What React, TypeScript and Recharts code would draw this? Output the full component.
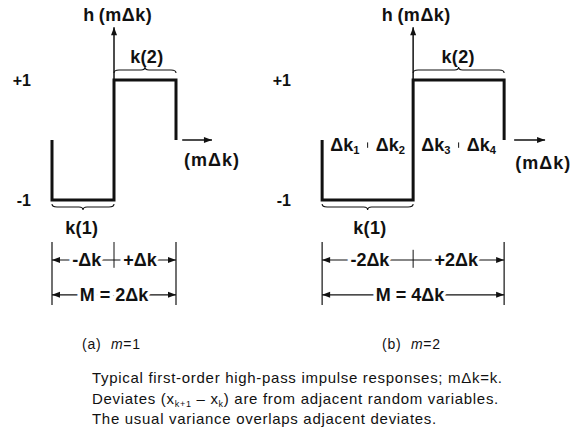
import { LineChart, Line, XAxis, YAxis, ReferenceLine, ReferenceDot } from 'recharts';

// First-order high-pass impulse response h(mΔk); x is in units of Δk
const xA = [-1, -1, 0, 0, 1, 1];
const hA = [0, -1, -1, 1, 1, 0];
const xB = [-2, -2, 0, 0, 2, 2];
const hB = [0, -1, -1, 1, 1, 0];

const levelTicks = [1, -1];
const levelNames = ['+1', '-1'];

// sub-interval labels for m = 2
const subCentersB = [-1.5, -0.5, 0.5, 1.5];
const subIndexB = ['1', '2', '3', '4'];
const subDividersB = [-1, 1];

const FONT = '"Liberation Sans", Arial, Helvetica, sans-serif';
const INK = '#111';

// shared heights (in units of h)
const Y = {
  axisTop: 1.88,
  hLabel: 2.08,
  k2Label: 1.38,
  k2Brace: 1.167,
  k1Brace: -1.117,
  k1Label: -1.47,
  dimTop: -1.7,
  dimBottom: -2.75,
  row1: -2.0,
  row2: -2.58,
  crossBottom: -2.13,
};

type Pt = { x1: number; y1: number; x2: number; y2: number };

function arrowHead(tx: number, ty: number, fx: number, fy: number, key: string) {
  const a = Math.atan2(ty - fy, tx - fx);
  const L = 8;
  const W = 3;
  const bx = tx - L * Math.cos(a);
  const by = ty - L * Math.sin(a);
  const px = -Math.sin(a) * W;
  const py = Math.cos(a) * W;
  return <polygon key={key} points={`${tx},${ty} ${bx + px},${by + py} ${bx - px},${by - py}`} fill={INK} />;
}

function arrowShape(both: boolean, width = 1.4) {
  return (p: Pt) => (
    <g>
      <line x1={p.x1} y1={p.y1} x2={p.x2} y2={p.y2} stroke={INK} strokeWidth={width} />
      {arrowHead(p.x2, p.y2, p.x1, p.y1, 'e')}
      {both && arrowHead(p.x1, p.y1, p.x2, p.y2, 's')}
    </g>
  );
}

function plainShape(width: number) {
  return (p: Pt) => <line x1={p.x1} y1={p.y1} x2={p.x2} y2={p.y2} stroke={INK} strokeWidth={width} />;
}

// curly brace along a horizontal segment; dir = -1 puts the tip upward
function braceShape(dir: number) {
  return (p: Pt) => {
    const { x1, x2, y1: y } = p;
    const xm = (x1 + x2) / 2;
    const e = 3 * -dir;
    const t = 3 * dir;
    const d = `M${x1},${y + e} Q${x1},${y} ${x1 + 5},${y} L${xm - 4},${y} Q${xm},${y} ${xm},${y + t} Q${xm},${y} ${xm + 4},${y} L${x2 - 5},${y} Q${x2},${y} ${x2},${y + e}`;
    return <path d={d} fill="none" stroke={INK} strokeWidth={1.1} />;
  };
}

function textShape(text: string, opts: { size?: number; sub?: string; halo?: boolean; spacing?: number } = {}) {
  const { size = 18, sub, halo = false, spacing = 0 } = opts;
  return (p: { cx: number; cy: number }) => (
    <text
      x={p.cx}
      y={p.cy}
      textAnchor="middle"
      dominantBaseline="central"
      fontFamily={FONT}
      fontWeight="bold"
      fontSize={size}
      letterSpacing={spacing}
      fill={INK}
      stroke={halo ? '#fff' : 'none'}
      strokeWidth={halo ? 7 : 0}
      paintOrder="stroke"
    >
      {text}
      {sub && (
        <tspan fontSize={size * 0.62} dy={5}>
          {sub}
        </tspan>
      )}
    </text>
  );
}

interface Layout {
  left: number;
  width: number;
  right: number;
  yWidth: number;
  tickShift: number;
  xDomain: [number, number];
  span: number;
  hLabelX: number;
  k2X: number;
  k1X: number;
  arrow: [number, number];
  argX: number;
  argY: number;
  rowText: [string, string];
  rowX: [number, number];
  totalText: string;
  totalX: number;
  crossTop: number;
}

function Panel({ layout, xs, hs, children }: { layout: Layout; xs: number[]; hs: number[]; children?: any }) {
  const L = layout;
  const data = xs.map((x, i) => ({ x, h: hs[i] }));
  const s = L.span;
  return (
    <div style={{ position: 'absolute', left: L.left, top: 0 }}>
      <LineChart width={L.width} height={320} data={data} margin={{ top: 5, right: L.right, bottom: 0, left: 0 }}>
        <XAxis type="number" dataKey="x" domain={L.xDomain} allowDataOverflow hide />
        <YAxis
          type="number"
          domain={[-3, 2.25]}
          allowDataOverflow
          width={L.yWidth}
          ticks={levelTicks}
          tickFormatter={(v: number) => levelNames[levelTicks.indexOf(v)]}
          axisLine={false}
          tickLine={false}
          tickSize={0}
          tickMargin={-L.tickShift}
          tick={{ fill: INK, fontSize: 16, fontWeight: 'bold', fontFamily: FONT }}
        />

        {/* axes arrows */}
        <ReferenceLine segment={[{ x: 0, y: 1 }, { x: 0, y: Y.axisTop }]} shape={arrowShape(false, 1.5)} />
        <ReferenceLine segment={[{ x: L.arrow[0], y: 0 }, { x: L.arrow[1], y: 0 }]} shape={arrowShape(false, 1.5)} />

        {/* braces */}
        <ReferenceLine segment={[{ x: 0, y: Y.k2Brace }, { x: s, y: Y.k2Brace }]} shape={braceShape(-1)} />
        <ReferenceLine segment={[{ x: -s, y: Y.k1Brace }, { x: 0, y: Y.k1Brace }]} shape={braceShape(1)} />

        {/* dimension lines */}
        <ReferenceLine segment={[{ x: -s, y: Y.dimTop }, { x: -s, y: Y.dimBottom }]} shape={plainShape(1.2)} />
        <ReferenceLine segment={[{ x: s, y: Y.dimTop }, { x: s, y: Y.dimBottom }]} shape={plainShape(1.2)} />
        <ReferenceLine segment={[{ x: 0, y: L.crossTop }, { x: 0, y: Y.crossBottom }]} shape={plainShape(1)} />
        <ReferenceLine segment={[{ x: -s, y: Y.row1 }, { x: s, y: Y.row1 }]} shape={arrowShape(true, 1.2)} />
        <ReferenceLine segment={[{ x: -s, y: Y.row2 }, { x: s, y: Y.row2 }]} shape={arrowShape(true, 1.2)} />

        <Line
          type="linear"
          dataKey="h"
          stroke={INK}
          strokeWidth={3}
          strokeLinejoin="miter"
          dot={false}
          isAnimationActive={false}
        />

        {children}

        <ReferenceDot x={L.hLabelX} y={Y.hLabel} r={0} shape={textShape('h\u2009(mΔk)', { spacing: 0.5 })} />
        <ReferenceDot x={L.k2X} y={Y.k2Label} r={0} shape={textShape('k(2)', { spacing: 0.3 })} />
        <ReferenceDot x={L.k1X} y={Y.k1Label} r={0} shape={textShape('k(1)', { spacing: 0.3 })} />
        <ReferenceDot x={L.argX} y={L.argY} r={0} shape={textShape('(mΔk)', { spacing: 1 })} />
        <ReferenceDot x={L.rowX[0]} y={Y.row1} r={0} shape={textShape(L.rowText[0], { halo: true })} />
        <ReferenceDot x={L.rowX[1]} y={Y.row1} r={0} shape={textShape(L.rowText[1], { halo: true })} />
        <ReferenceDot x={L.totalX} y={Y.row2} r={0} shape={textShape(L.totalText, { halo: true })} />
      </LineChart>
    </div>
  );
}

const layoutA: Layout = {
  left: 0,
  width: 290,
  right: 5.5,
  yWidth: 21,
  tickShift: 10,
  xDomain: [-1.5, 2.75],
  span: 1,
  hLabelX: 0.06,
  k2X: 0.53,
  k1X: -0.52,
  arrow: [1.1, 1.58],
  argX: 1.58,
  argY: -0.33,
  rowText: ['-Δk', '+Δk'],
  rowX: [-0.44, 0.42],
  totalText: 'M = 2Δk',
  totalX: 0,
  crossTop: -1.7,
};

const layoutB: Layout = {
  left: 267.875,
  width: 311,
  right: 18,
  yWidth: 20,
  tickShift: 3,
  xDomain: [-2.75, 3.25],
  span: 2,
  hLabelX: 0.07,
  k2X: 0.99,
  k1X: -0.95,
  arrow: [2.22, 2.9],
  argX: 2.86,
  argY: -0.38,
  rowText: ['-2Δk', '+2Δk'],
  rowX: [-0.95, 0.95],
  totalText: 'M = 4Δk',
  totalX: -0.07,
  crossTop: -1.83,
};

const captionStyle = {
  position: 'absolute' as const,
  fontFamily: FONT,
  color: INK,
  whiteSpace: 'nowrap' as const,
};

const noteStyle = { ...captionStyle, left: 92, fontSize: 15, lineHeight: '20px', letterSpacing: 0.7 };
const subStyle = { fontSize: 9, verticalAlign: -3, lineHeight: 0 };

export default function App() {
  return (
    <div style={{ position: 'absolute', left: 0, top: 0, width: 579, height: 439, background: '#fff', overflow: 'hidden' }}>
      <Panel layout={layoutA} xs={xA} hs={hA} />
      <Panel layout={layoutB} xs={xB} hs={hB}>
        {subCentersB.map((c, i) => (
          <ReferenceDot key={`s${i}`} x={c} y={-0.08} r={0} shape={textShape('Δk', { sub: subIndexB[i] })} />
        ))}
        {subDividersB.map((d) => (
          <ReferenceLine key={`d${d}`} segment={[{ x: d, y: -0.04 }, { x: d, y: -0.13 }]} shape={plainShape(1)} />
        ))}
      </Panel>

      <div style={{ ...captionStyle, left: 82, top: 335, fontSize: 14, lineHeight: '18px', letterSpacing: 0.8 }}>
        (a)&nbsp;&nbsp;<i>m</i>=1
      </div>
      <div style={{ ...captionStyle, left: 382, top: 335, fontSize: 14, lineHeight: '18px', letterSpacing: 0.8 }}>
        (b)&nbsp;&nbsp;<i>m</i>=2
      </div>

      <div style={{ ...noteStyle, top: 368 }}>Typical first-order high-pass impulse responses; mΔk=k.</div>
      <div style={{ ...noteStyle, top: 388.5 }}>
        Deviates (x<sub style={subStyle}>k+1</sub> – x<sub style={subStyle}>k</sub>) are from adjacent random variables.
      </div>
      <div style={{ ...noteStyle, top: 409 }}>The usual variance overlaps adjacent deviates.</div>
    </div>
  );
}
